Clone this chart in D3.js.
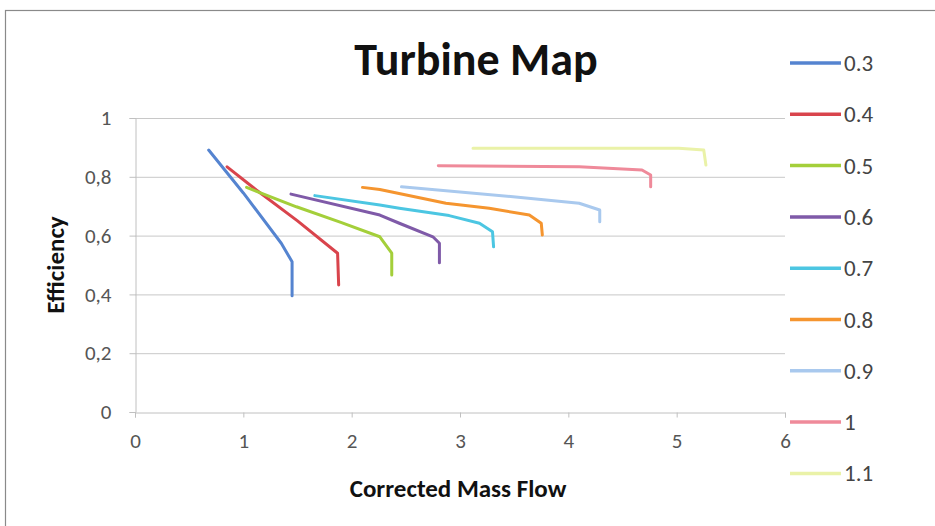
<!DOCTYPE html>
<html><head><meta charset="utf-8">
<script src="https://cdn.jsdelivr.net/npm/d3@7"></script>
<style>
body{margin:0;background:#fff;}
svg{display:block;}
.tick text{font-size:21px;}
</style></head>
<body>
<svg id="chart" width="935" height="526"></svg>
<script>
const seriesNames = ["0.3","0.4","0.5","0.6","0.7","0.8","0.9","1","1.1"];
const seriesColors = ["#5584d0","#d9444c","#a4cf3a","#7f5aa8","#4cc6e2","#f5952f","#a9c9ee","#ef8a9a","#eaf2a8"];
// each series: [corrected mass flow, efficiency]
const s03 = [[0.68,0.891],[1.0,0.745],[1.35,0.574],[1.45,0.511],[1.45,0.395]];
const s04 = [[0.85,0.834],[1.12,0.755],[1.5,0.650],[1.87,0.540],[1.88,0.432]];
const s05 = [[1.03,0.764],[1.49,0.698],[1.9,0.645],[2.26,0.596],[2.37,0.540],[2.37,0.466]];
const s06 = [[1.44,0.741],[2.26,0.670],[2.44,0.642],[2.75,0.596],[2.81,0.574],[2.81,0.508]];
const s07 = [[1.66,0.736],[2.26,0.704],[2.44,0.693],[2.9,0.668],[3.18,0.642],[3.30,0.613],[3.31,0.562]];
const s08 = [[2.10,0.764],[2.26,0.757],[2.87,0.710],[3.27,0.693],[3.64,0.670],[3.75,0.642],[3.76,0.602]];
const s09 = [[2.46,0.766],[3.49,0.732],[4.10,0.710],[4.29,0.687],[4.29,0.647]];
const s10 = [[2.80,0.838],[4.10,0.834],[4.68,0.823],[4.76,0.806],[4.76,0.766]];
const s11 = [[3.12,0.897],[5.02,0.897],[5.25,0.891],[5.27,0.840]];
const seriesData = [s03,s04,s05,s06,s07,s08,s09,s10,s11];
const xTicks = [0,1,2,3,4,5,6];
const yTicks = [0,0.2,0.4,0.6,0.8,1];
const yTickLabels = ["0","0,2","0,4","0,6","0,8","1"];

const svg = d3.select("#chart");
const font = "Carlito, 'Open Sans', 'Liberation Sans', sans-serif";

// outer chart border
svg.append("rect").attr("x",5.5).attr("y",10.5).attr("width",940).attr("height",530)
  .attr("fill","none").attr("stroke","#8a8a8a").attr("stroke-width",1.2);

const x = d3.scaleLinear().domain([0,6]).range([135,785]);
const y = d3.scaleLinear().domain([0,1]).range([412,118]);

// gridlines
svg.append("g").selectAll("line").data(yTicks.slice(1)).join("line")
  .attr("x1",135).attr("x2",785).attr("y1",d=>y(d)+0.5).attr("y2",d=>y(d)+0.5)
  .attr("stroke","#c8c8c8").attr("stroke-width",1);

// axes
const xAxis = svg.append("g").attr("transform","translate(0,412.5)")
  .call(d3.axisBottom(x).tickValues(xTicks).tickSize(5).tickPadding(16).tickFormat(d3.format("d")));
const yAxis = svg.append("g").attr("transform","translate(135.5,0)")
  .call(d3.axisLeft(y).tickValues(yTicks).tickSize(6).tickPadding(18).tickFormat((d,i)=>yTickLabels[i]));
[xAxis,yAxis].forEach(a=>{
  a.attr("font-size",21).attr("font-family",font);
  a.select(".domain").attr("stroke","#c0c0c0");
  a.selectAll(".tick line").attr("stroke","#c0c0c0");
  a.selectAll(".tick text").attr("fill","#555").style("font-family",font).style("font-size","21px");
});

// lines
const lineG = d3.line().x(d=>x(d[0])).y(d=>y(d[1]));
svg.append("g").selectAll("path").data(seriesData).join("path")
  .attr("d",d=>lineG(d))
  .attr("fill","none").attr("stroke",(d,i)=>seriesColors[i])
  .attr("stroke-width",3).attr("stroke-linejoin","round").attr("stroke-linecap","round");

// title
svg.append("text").attr("x",476).attr("y",75).attr("text-anchor","middle")
  .attr("font-family",font).attr("font-weight","bold").attr("font-size",46).attr("fill","#111")
  .text("Turbine Map");

// axis titles
svg.append("text").attr("x",458).attr("y",497).attr("text-anchor","middle")
  .attr("font-family",font).attr("font-weight","bold").attr("font-size",25).attr("fill","#111")
  .text("Corrected Mass Flow");
svg.append("text").attr("transform","translate(64,265) rotate(-90)").attr("text-anchor","middle")
  .attr("font-family",font).attr("font-weight","bold").attr("font-size",25).attr("fill","#111")
  .text("Efficiency");

// legend
const leg = svg.append("g").selectAll("g").data(seriesNames).join("g")
  .attr("transform",(d,i)=>`translate(790,${63+51.3*i})`);
leg.append("line").attr("x1",0).attr("x2",51).attr("y1",0).attr("y2",0)
  .attr("stroke",(d,i)=>seriesColors[i]).attr("stroke-width",3.5);
leg.append("text").attr("x",54).attr("y",8).attr("font-family",font).attr("font-size",23)
  .attr("fill","#444").text(d=>d);
</script>
</body></html>
